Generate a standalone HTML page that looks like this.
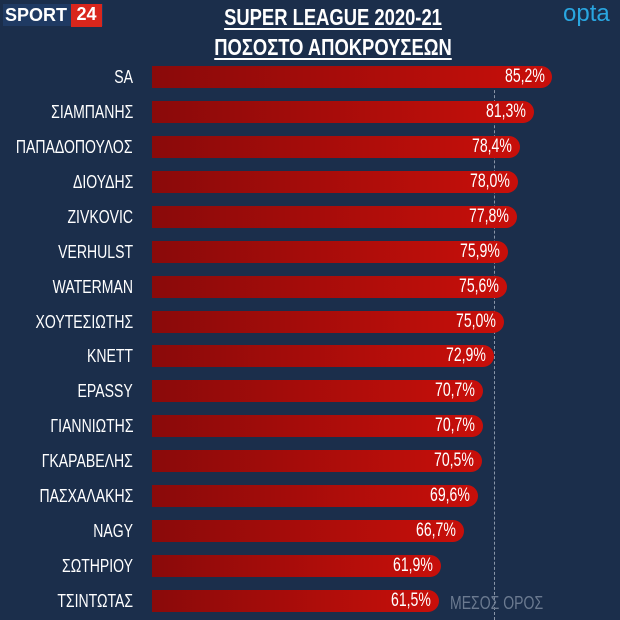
<!DOCTYPE html>
<html><head><meta charset="utf-8"><style>
body{margin:0;width:620px;height:620px;background:#1b2e4b;overflow:hidden;position:relative;font-family:"Liberation Sans",sans-serif;color:#fff}
.t{position:absolute;left:23px;width:620px;text-align:center;font-weight:bold;font-size:23px;text-decoration:underline;text-underline-offset:3px;transform:scaleX(0.8)}
.lab{position:absolute;right:487px;font-size:18px;height:22px;line-height:22px;white-space:nowrap;transform:scaleX(0.78);transform-origin:right center}
.bar{position:absolute;left:152px;height:22px;border-radius:0 11px 11px 0;background:linear-gradient(90deg,#8a0a0a,#c80f0a)}
.v{position:absolute;right:8px;top:0;line-height:22px;font-size:19px;transform:scaleX(0.74);transform-origin:right center}
</style></head><body>
<div style="position:absolute;left:3px;top:4px;width:100px;height:22px;background:#1f3a63"></div>
<div style="position:absolute;left:5px;top:5px;font-weight:bold;font-size:18px">SPORT</div>
<div style="position:absolute;left:71px;top:4px;width:31px;height:23px;background:#d9261c;font-weight:bold;font-size:18px;text-align:center">24</div>
<div style="position:absolute;left:563px;top:0px;font-size:24px;color:#29a6e0">opta</div>
<div class="t" style="top:4px">SUPER LEAGUE 2020-21</div>
<div class="t" style="top:34px">ΠΟΣΟΣΤΟ ΑΠΟΚΡΟΥΣΕΩΝ</div>
<div style="position:absolute;left:494px;top:70px;height:550px;border-left:1px dashed #8a96a8"></div>
<div style="position:absolute;left:450px;top:593px;font-size:18px;color:#6b7a90;transform:scaleX(0.78);transform-origin:left center">ΜΕΣΟΣ ΟΡΟΣ</div>
<div id="c"></div>
<script>
var d=[["SA",85.2],["ΣΙΑΜΠΑΝΗΣ",81.3],["ΠΑΠΑΔΟΠΟΥΛΟΣ",78.4],["ΔΙΟΥΔΗΣ",78.0],["ZIVKOVIC",77.8],["VERHULST",75.9],["WATERMAN",75.6],["ΧΟΥΤΕΣΙΩΤΗΣ",75.0],["KNETT",72.9],["EPASSY",70.7],["ΓΙΑΝΝΙΩΤΗΣ",70.7],["ΓΚΑΡΑΒΕΛΗΣ",70.5],["ΠΑΣΧΑΛΑΚΗΣ",69.6],["NAGY",66.7],["ΣΩΤΗΡΙΟΥ",61.9],["ΤΣΙΝΤΩΤΑΣ",61.5]];
var h="";d.forEach(function(r,i){var y=66+i*34.93;var w=4.77*r[1]-6;
h+='<div class="lab" style="top:'+y+'px">'+r[0]+'</div><div class="bar" style="top:'+y+'px;width:'+w+'px"><span class="v">'+r[1].toFixed(1).replace(".",",")+'%</span></div>';});
document.getElementById("c").innerHTML=h;
</script>
</body></html>
